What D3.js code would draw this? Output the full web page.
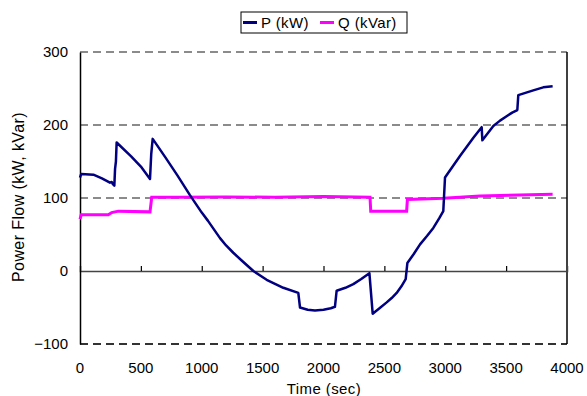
<!DOCTYPE html>
<html>
<head>
<meta charset="utf-8">
<script src="https://cdn.jsdelivr.net/npm/d3@7"></script>
<style>
  body { margin: 0; background: #fff; }
  text { font-family: "Liberation Sans", Arial, sans-serif; }
</style>
</head>
<body>
<div id="chart"></div>
<script>
// ---------------------------------------------------------
// DATA
// ---------------------------------------------------------

// active power P (kW)
var pTime = [0, 10, 110, 180, 246, 260, 270, 282, 288, 295, 301, 420, 500, 575, 585, 597,
  700, 800, 903, 1000, 1050, 1100, 1150, 1200, 1259, 1330, 1424, 1533, 1670, 1793,
  1807, 1870, 1930, 2000, 2060, 2094, 2108, 2180, 2245, 2310, 2377, 2404, 2460,
  2519, 2560, 2601, 2640, 2675, 2689, 2740, 2793, 2850, 2902, 2950, 2984, 2998,
  3121, 3231, 3299, 3305, 3395, 3450, 3504, 3550, 3592, 3600, 3723, 3805, 3882];
var pValue = [128, 133, 132, 127, 121, 122, 119, 117, 140, 150, 176, 157, 143, 126, 160, 181,
  156, 131, 104, 80, 69, 57, 45, 35, 25, 14, 0, -12, -23, -30,
  -50, -53, -54, -53, -51, -49, -27, -23, -18, -11, -3, -58.5, -51,
  -43, -37, -30, -21, -11, 11, 23, 36.5, 48, 59, 72, 82, 128,
  157.5, 182.6, 197, 179, 198.6, 206, 212, 217, 220.5, 241, 247.5, 251.6, 253];

// reactive power Q (kVar)
var qTime = [0, 10, 233, 260, 315, 575, 589, 800, 1200, 1600, 2000, 2382, 2388, 2683,
  2689, 2984, 3285, 3614, 3882];
var qValue = [71, 77, 77, 80, 82, 81, 101, 101, 101.5, 101, 102, 101, 82, 82,
  98, 99.5, 102.7, 104, 105];

var seriesNames = ["P (kW)", "Q (kVar)"];
var seriesColors = ["#000080", "#ff00ff"];

var xTicks = [0, 500, 1000, 1500, 2000, 2500, 3000, 3500, 4000];
var yTicks = [-100, 0, 100, 200, 300];

// ---------------------------------------------------------
// SET UP
// ---------------------------------------------------------

var svgWidth = 587;
var svgHeight = 396;

var margin = { top: 52, right: 20, bottom: 52, left: 80 };
var width = 567 - margin.left;
var height = 344 - margin.top;

var svg = d3.select("#chart")
  .append("svg")
  .attr("width", svgWidth)
  .attr("height", svgHeight);

var chartGroup = svg.append("g")
  .attr("transform", `translate(${margin.left}, ${margin.top})`);

var xScale = d3.scaleLinear().domain([0, 4000]).range([0, width]);
var yScale = d3.scaleLinear().domain([-100, 300]).range([height, 0]);

// dashed grid lines (incl. top and bottom edges)
chartGroup.selectAll(".grid")
  .data([100, 200, 300, -100])
  .enter()
  .append("line")
  .attr("x1", 0)
  .attr("x2", width)
  .attr("y1", d => yScale(d))
  .attr("y2", d => yScale(d))
  .attr("stroke", d => d === -100 ? "#333" : "#666")
  .attr("stroke-width", d => d === -100 ? 2 : 1.3)
  .attr("stroke-dasharray", "8,5");

// right border
chartGroup.append("line")
  .attr("x1", width).attr("x2", width)
  .attr("y1", 0).attr("y2", height)
  .attr("stroke", "#000")
  .attr("stroke-width", 1.5);

// zero line with ticks pointing up
var bottomAxis = d3.axisTop(xScale)
  .tickValues(xTicks)
  .tickSize(5)
  .tickFormat("");

var xAxis = chartGroup.append("g")
  .attr("transform", `translate(0, ${yScale(0)})`)
  .call(bottomAxis);
xAxis.select(".domain").attr("stroke", "#444").attr("stroke-width", 1.5);
xAxis.selectAll(".tick line").attr("stroke", "#000").attr("stroke-width", 1.2);
xAxis.selectAll(".tick").filter(d => d === 0 || d === 4000).remove();

// left axis
var leftAxis = d3.axisLeft(yScale).tickValues(yTicks).tickSize(0).tickPadding(12);
var yAxis = chartGroup.append("g").call(leftAxis);
yAxis.select(".domain").attr("stroke", "#000").attr("stroke-width", 1.5);
yAxis.selectAll("text")
  .attr("font-size", "15px")
  .attr("fill", "#000")
  .text(d => d < 0 ? "\u2212" + Math.abs(d) : d);

// x tick labels
chartGroup.selectAll(".xlabel")
  .data(xTicks)
  .enter()
  .append("text")
  .attr("x", d => xScale(d))
  .attr("y", height + 29)
  .attr("text-anchor", "middle")
  .attr("font-size", "15px")
  .text(d => d);

// ---------------------------------------------------------
// LINES
// ---------------------------------------------------------

var line = d3.line()
  .x(d => xScale(d[0]))
  .y(d => yScale(d[1]));

var qData = qTime.map((t, i) => [t, qValue[i]]);
var pData = pTime.map((t, i) => [t, pValue[i]]);

chartGroup.append("path")
  .datum(qData)
  .attr("d", line)
  .attr("fill", "none")
  .attr("stroke", seriesColors[1])
  .attr("stroke-width", 3);

chartGroup.append("path")
  .datum(pData)
  .attr("d", line)
  .attr("fill", "none")
  .attr("stroke", seriesColors[0])
  .attr("stroke-width", 2.5)
  .attr("stroke-linejoin", "round");

// ---------------------------------------------------------
// AXIS TITLES
// ---------------------------------------------------------

svg.append("text")
  .attr("transform", "rotate(-90)")
  .attr("x", -197)
  .attr("y", 24)
  .attr("text-anchor", "middle")
  .attr("font-size", "16px")
  .attr("letter-spacing", "0.4px")
  .text("Power Flow (kW, kVar)");

svg.append("text")
  .attr("x", 324)
  .attr("y", 394)
  .attr("text-anchor", "middle")
  .attr("font-size", "15px")
  .attr("letter-spacing", "0.4px")
  .text("Time (sec)");

// ---------------------------------------------------------
// LEGEND
// ---------------------------------------------------------

var legend = svg.append("g");
legend.append("rect")
  .attr("x", 241).attr("y", 12)
  .attr("width", 166).attr("height", 21)
  .attr("fill", "#fff")
  .attr("stroke", "#000")
  .attr("stroke-width", 1);

var legendX = [243, 320];
seriesNames.forEach(function(name, i) {
  legend.append("line")
    .attr("x1", legendX[i]).attr("x2", legendX[i] + 14)
    .attr("y1", 22.5).attr("y2", 22.5)
    .attr("stroke", seriesColors[i])
    .attr("stroke-width", 3);
  legend.append("text")
    .attr("x", legendX[i] + 18)
    .attr("y", 28)
    .attr("font-size", "15px")
    .attr("letter-spacing", "0.4px")
    .text(name);
});
</script>
</body>
</html>
